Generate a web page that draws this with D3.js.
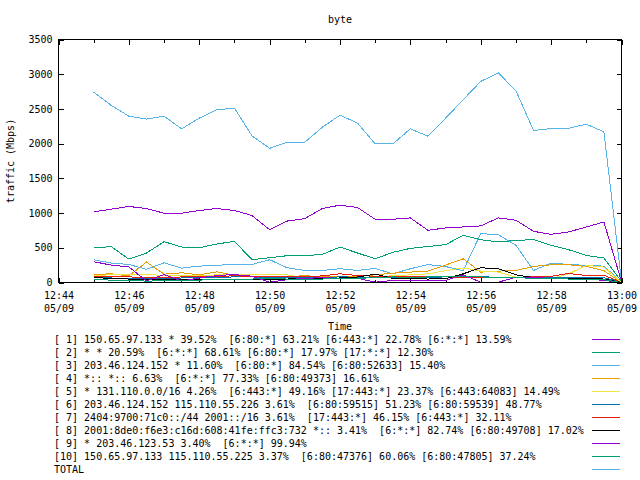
<!DOCTYPE html>
<html><head><meta charset="utf-8">
<script src="https://cdn.jsdelivr.net/npm/d3@7"></script>
<style>
html,body{margin:0;padding:0;background:#fff;}
svg{display:block;}
text{font-family:"DejaVu Sans Mono","Liberation Mono",monospace;font-size:10px;fill:#000;}
</style></head><body>
<svg id="c" width="640" height="480"></svg>
<script>
// ---- data ----
const times = ["12:45:00","12:45:30","12:46:00","12:46:30","12:47:00","12:47:30","12:48:00","12:48:30",
  "12:49:00","12:49:30","12:50:00","12:50:30","12:51:00","12:51:30","12:52:00","12:52:30",
  "12:53:00","12:53:30","12:54:00","12:54:30","12:55:00","12:55:30","12:56:00","12:56:30",
  "12:57:00","12:57:30","12:58:00","12:58:30","12:59:00","12:59:30","13:00:00"];
const s1 = [1017,1056,1095,1066,998,998,1037,1066,1037,964,760,885,921,1066,1114,1080,911,911,930,752,786,800,815,930,897,737,694,728,800,872,10];
const s2 = [501,516,337,424,588,511,501,554,593,328,357,386,386,405,511,424,342,434,492,518,545,680,617,583,607,617,535,472,390,352,15];
const s3 = [328,280,260,190,284,207,236,246,265,260,328,212,174,174,198,174,202,125,198,258,230,170,704,689,535,174,280,260,246,236,5];
const s4 = [116,125,95,294,120,140,111,154,106,90,85,90,95,90,85,90,110,135,150,164,251,342,149,164,174,231,255,255,231,170,0];
const s5 = [101,111,111,111,105,100,95,110,116,116,111,111,63,60,65,63,70,100,110,125,170,210,165,150,77,53,55,125,246,222,0];
const s6 = [70,65,60,55,60,65,70,75,80,80,75,70,72,75,80,78,75,70,72,75,80,85,80,78,75,72,70,70,75,70,0];
const s7 = [90,85,80,75,70,80,85,90,95,90,85,80,85,95,125,100,90,85,80,85,80,75,70,72,75,80,90,130,100,105,0];
const s8 = [75,55,50,45,40,45,50,50,45,40,45,50,55,60,65,80,120,60,55,50,55,125,212,198,111,70,60,55,55,50,0];
const s9 = [300,250,225,20,115,20,65,100,115,90,5,40,60,70,60,60,5,30,30,30,30,110,5,5,75,75,55,50,50,30,0];
const s10 = [40,35,30,20,25,30,35,40,45,50,55,50,45,50,55,60,70,80,75,80,85,90,80,75,70,60,55,50,50,40,0];
const total = [2743,2550,2396,2353,2396,2213,2367,2488,2512,2112,1933,2020,2020,2237,2411,2295,1996,1996,2213,2107,2367,2632,2897,3018,2762,2189,2218,2222,2280,2170,20];

const seriesLabels = [
  "[ 1] 150.65.97.133 * 39.52%  [6:80:*] 63.21% [6:443:*] 22.78% [6:*:*] 13.59%",
  "[ 2] * * 20.59%  [6:*:*] 68.61% [6:80:*] 17.97% [17:*:*] 12.30%",
  "[ 3] 203.46.124.152 * 11.60%  [6:80:*] 84.54% [6:80:52633] 15.40%",
  "[ 4] *:: *:: 6.63%  [6:*:*] 77.33% [6:80:49373] 16.61%",
  "[ 5] * 131.110.0.0/16 4.26%  [6:443:*] 49.16% [17:443:*] 23.37% [6:443:64083] 14.49%",
  "[ 6] 203.46.124.152 115.110.55.226 3.61%  [6:80:59515] 51.23% [6:80:59539] 48.77%",
  "[ 7] 2404:9700:71c0::/44 2001::/16 3.61%  [17:443:*] 46.15% [6:443:*] 32.11%",
  "[ 8] 2001:8de0:f6e3:c16d:608:41fe:ffc3:732 *:: 3.41%  [6:*:*] 82.74% [6:80:49708] 17.02%",
  "[ 9] * 203.46.123.53 3.40%  [6:*:*] 99.94%",
  "[10] 150.65.97.133 115.110.55.225 3.37%  [6:80:47376] 60.06% [6:80:47805] 37.24%",
  "TOTAL"
];
const seriesColors = ["#9400d3","#009e73","#56b4e9","#e69f00","#f0e442","#0072b2","#e51e10","#000000","#9400d3","#009e73","#56b4e9"];
const yTicks = [0,500,1000,1500,2000,2500,3000,3500];
const xMajorTicks = ["12:44","12:46","12:48","12:50","12:52","12:54","12:56","12:58","13:00"];
const xMinorTicks = ["12:45","12:47","12:49","12:51","12:53","12:55","12:57","12:59"];
const dateLabel = "05/09";
const titleText = "byte";
const xTitle = "Time";
const yTitle = "traffic (Mbps)";

// ---- chart ----
const seriesValues = [s1,s2,s3,s4,s5,s6,s7,s8,s9,s10,total];
const parseT = d3.timeParse("%H:%M:%S");
const parseM = d3.timeParse("%H:%M");
const L = 58.5, R = 621.5, T = 39.5, B = 282.5;
const svg = d3.select("#c");
const x = d3.scaleTime().domain([parseM("12:44"), parseM("13:00")]).range([L, R]);
const y = d3.scaleLinear().domain([0, 3500]).range([B, T]);

function styleAxis(g){
  g.attr("font-family", null).attr("font-size", null);
  g.select(".domain").remove();
  g.selectAll(".tick line").attr("stroke","#000").attr("shape-rendering","crispEdges");
}

// y axes
svg.append("g").attr("transform",`translate(${L},0)`)
  .call(d3.axisLeft(y).tickValues(yTicks).tickSize(-5).tickPadding(6).tickFormat(d3.format("d")))
  .call(styleAxis);
svg.append("g").attr("transform",`translate(${R},0)`)
  .call(d3.axisRight(y).tickValues(yTicks).tickSize(-5).tickFormat(""))
  .call(styleAxis);

// x axes
const majors = xMajorTicks.map(parseM), minors = xMinorTicks.map(parseM);
const gx = svg.append("g").attr("transform",`translate(0,${B})`)
  .call(d3.axisBottom(x).tickValues(majors).tickSize(-5).tickFormat(d3.timeFormat("%H:%M")))
  .call(styleAxis);
gx.selectAll(".tick text").attr("y", 16.5).attr("dy", null).each(function(){
  const t = d3.select(this), lbl = t.text();
  t.text(null);
  t.append("tspan").attr("x",0).text(lbl);
  t.append("tspan").attr("x",0).attr("dy",13).text(dateLabel);
});
svg.append("g").attr("transform",`translate(0,${B})`)
  .call(d3.axisBottom(x).tickValues(minors).tickSize(-3).tickFormat(""))
  .call(styleAxis);
svg.append("g").attr("transform",`translate(0,${T})`)
  .call(d3.axisTop(x).tickValues(majors).tickSize(-5).tickFormat(""))
  .call(styleAxis);
svg.append("g").attr("transform",`translate(0,${T})`)
  .call(d3.axisTop(x).tickValues(minors).tickSize(-3).tickFormat(""))
  .call(styleAxis);

// lines
const line = d3.line().x((d,i)=>x(parseT(times[i]))).y(d=>y(d));
seriesValues.forEach((vals,k)=>{
  svg.append("path").datum(vals).attr("d", line)
    .attr("fill","none").attr("stroke", seriesColors[k]).attr("stroke-width",1)
    .attr("shape-rendering","crispEdges");
});

// border
svg.append("rect").attr("x",L).attr("y",T).attr("width",R-L).attr("height",B-T)
  .attr("fill","none").attr("stroke","#000").attr("shape-rendering","crispEdges");

// titles
svg.append("text").attr("x",(L+R)/2).attr("y",23).attr("text-anchor","middle").text(titleText);
svg.append("text").attr("x",(L+R)/2).attr("y",330).attr("text-anchor","middle").text(xTitle);
svg.append("text").attr("transform",`translate(14,${(T+B)/2}) rotate(-90)`).attr("text-anchor","middle").text(yTitle);

// legend
const lg = svg.append("g");
seriesLabels.forEach((lbl,k)=>{
  const cy = 339.5 + 13*k;
  lg.append("text").attr("x",54).attr("y",cy+3.5).style("white-space","pre").text(lbl);
  lg.append("line").attr("x1",592).attr("x2",620).attr("y1",cy).attr("y2",cy)
    .attr("stroke",seriesColors[k]).attr("shape-rendering","crispEdges");
});
</script>
</body></html>
